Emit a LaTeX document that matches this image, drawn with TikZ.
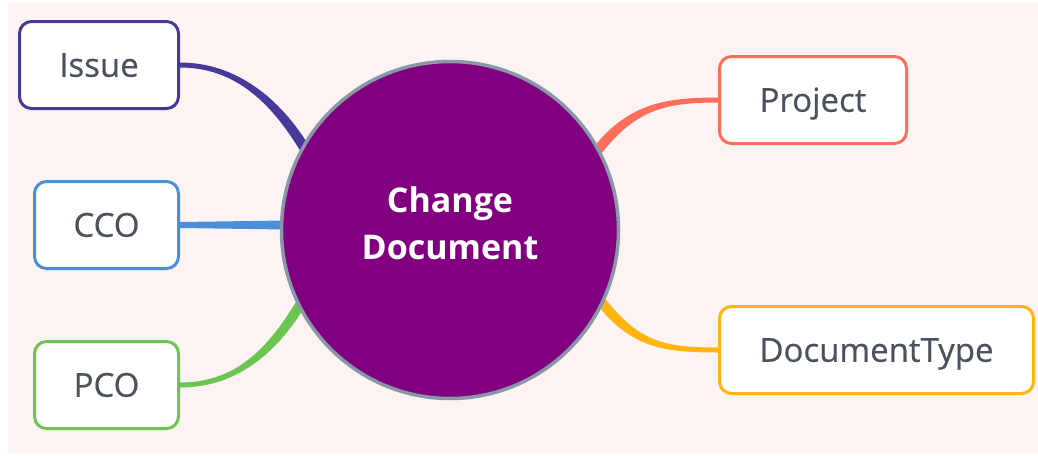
\documentclass[tikz,border=0pt]{standalone}
\usepackage{fontspec}
\setmainfont{Open Sans}
\newfontfamily\boxfont[FakeBold=0.5]{Open Sans}
\usetikzlibrary{calc,backgrounds}
\definecolor{bgpink}{HTML}{FDF3F2}
\definecolor{txtgray}{HTML}{4A525E}
\definecolor{cissue}{HTML}{46399A}
\definecolor{ccco}{HTML}{4A8FDB}
\definecolor{cpco}{HTML}{6CC551}
\definecolor{cproj}{HTML}{FF6E5B}
\definecolor{cdoc}{HTML}{FFB50F}
\definecolor{cpurple}{HTML}{800080}
\definecolor{cborder}{HTML}{8898A8}
\begin{document}
\begin{tikzpicture}[x=1pt,y=-1pt,
  box/.style={draw=#1, line width=3pt, rounded corners=12pt, fill=white,
    minimum height=87pt, inner sep=0pt, text=txtgray,
    text height=23.5pt, text depth=0pt,
    font=\boxfont\fontsize{33}{38}\selectfont},
  hub/.style={circle, draw=cborder, line width=3.5pt, fill=cpurple,
    minimum size=337pt, inner sep=0pt, text=white, align=center,
    font=\bfseries\fontsize{34}{47}\selectfont}]
\useasboundingbox (0,0) rectangle (1038,455);
% nodes
\node[hub] (cd) at (450,230) {Change\\Document\rule[-13pt]{0pt}{0pt}};
\node[box=cissue, minimum width=159pt] (issue) at (99,65) {Issue};
\node[box=ccco, minimum width=144pt] (cco) at (106.5,225) {CCO};
\node[box=cpco, minimum width=144pt] (pco) at (106.5,385) {PCO};
\node[box=cproj, minimum width=187pt] (project) at (813,100) {Project};
\node[box=cdoc, minimum width=314pt] (doctype) at (876.5,350) {DocumentType};
% connector end points inside the hub
\coordinate (e1) at ($(cd.center)!0.97!(cd.151)$);
\coordinate (e2) at ($(cco.east -| cd.west)+(6,0)$);
\coordinate (e3) at ($(cd.center)!0.97!(cd.206)$);
\coordinate (e4) at ($(cd.center)!0.97!(cd.28)$);
\coordinate (e5) at ($(cd.center)!0.97!(cd.335)$);
\begin{scope}[on background layer]
  \fill[bgpink] (8,3) rectangle (1038,453);
  % Issue
  \fill[cissue] ($(issue.east)+(0,-2.5)$) .. controls +(55,0) and +(-30,-50) .. ($(e1)+(4.3,-2.6)$)
    -- ($(e1)+(-4.3,2.6)$) .. controls +(-30,-50) and +(55,0) .. ($(issue.east)+(0,2.5)$) -- cycle;
  % CCO
  \fill[ccco] ($(cco.east)+(0,-3)$) -- ($(e2)+(0,-4.5)$) -- ($(e2)+(0,4.5)$) -- ($(cco.east)+(0,3)$) -- cycle;
  % PCO
  \fill[cpco] ($(pco.east)+(0,2.5)$) .. controls +(55,0) and +(-30,50) .. ($(e3)+(4.3,2.6)$)
    -- ($(e3)+(-4.3,-2.6)$) .. controls +(-30,50) and +(55,0) .. ($(pco.east)+(0,-2.5)$) -- cycle;
  % Project
  \fill[cproj] ($(project.west)+(0,-2.5)$) .. controls +(-55,0) and +(35,-45) .. ($(e4)+(-4,-3)$)
    -- ($(e4)+(4,3)$) .. controls +(35,-45) and +(-55,0) .. ($(project.west)+(0,2.5)$) -- cycle;
  % DocumentType
  \fill[cdoc] ($(doctype.west)+(0,2.5)$) .. controls +(-55,0) and +(35,45) .. ($(e5)+(-4,3)$)
    -- ($(e5)+(4,-3)$) .. controls +(35,45) and +(-55,0) .. ($(doctype.west)+(0,-2.5)$) -- cycle;
\end{scope}
\end{tikzpicture}
\end{document}
